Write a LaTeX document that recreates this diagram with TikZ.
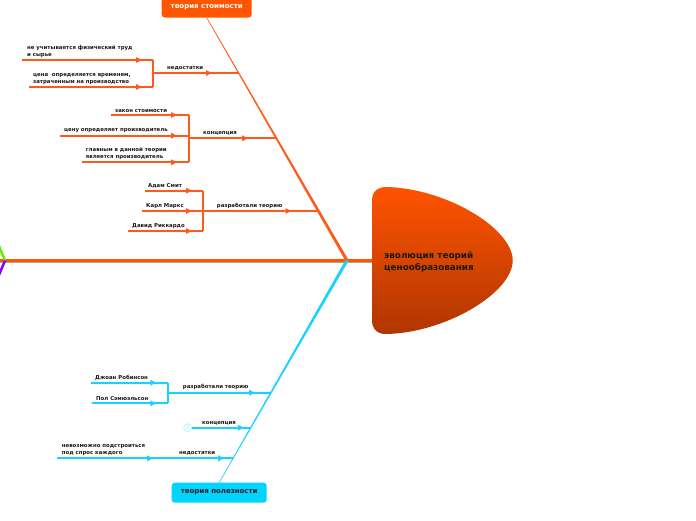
\documentclass[tikz,border=0pt]{standalone}
\usepackage{fontspec}
\setmainfont{DejaVu Sans}
\usepackage{xcolor}
\usetikzlibrary{arrows.meta, positioning, calc, decorations.markings}

\definecolor{stoim}{HTML}{FF5500}
\definecolor{stoimline}{HTML}{FF5A1A}
\definecolor{polez}{HTML}{00D4FF}
\definecolor{polezline}{HTML}{1AD2FF}
\definecolor{headtop}{HTML}{FF5300}
\definecolor{headbot}{HTML}{B03600}
\definecolor{spineedge}{HTML}{A3A88C}
\definecolor{txt}{HTML}{1A1A1A}
\definecolor{grn}{HTML}{66EE00}
\definecolor{prp}{HTML}{8A00FF}

\tikzset{
  lbl/.style={font=\fontsize{5.4}{7}\selectfont\bfseries, text=txt, inner sep=0pt, anchor=south west, align=left},
  arrat/.style={postaction={decorate}, decoration={markings, mark=at position #1 with {\arrow{Triangle[length=6pt, width=5.5pt]}}}},
  orn/.style={stoimline, line width=1.8pt},
  cyn/.style={polezline, line width=1.8pt},
  topic/.style={rounded corners=3pt, inner sep=0pt, font=\fontsize{7}{8}\selectfont\bfseries}
}

\begin{document}
\begin{tikzpicture}[x=1pt, y=-1pt]
    \useasboundingbox (0,0) rectangle (696,520);
    % main spine
    \coordinate (spineL) at (0,260.5);
    \coordinate (headW) at (372,260.5);
    \coordinate (J) at (347,260.5);
    \draw[spineedge, line width=4pt] (spineL) -- (headW);
    \draw[stoim, line width=3.5pt] (spineL) -- (headW);
    % bones of other topics (off the left edge)
    \coordinate (gr) at (-1,246);
    \coordinate (pu) at (-1,275);
    \coordinate (lj) at (5,260.5);
    \draw[grn, line width=2.5pt] (gr) -- (lj);
    \draw[prp, line width=2.5pt] (lj) -- (pu);
    % head
    \shade[top color=headtop, bottom color=headbot]
        (372,201) .. controls (372,192) and (377,187) .. (386,187)
        .. controls (445,188) and (512.7,228) .. (512.7,260.5)
        .. controls (512.7,293) and (445,333) .. (386,334)
        .. controls (377,334) and (372,329) .. (372,320) -- cycle;
    \node[font=\fontsize{8.8}{11.3}\selectfont\bfseries, text=txt, align=left, inner sep=0pt, anchor=west] (head) at (384,262) {эволюция теорий\\ценообразования};

    % topic: теория стоимости
    \node[topic, fill=stoim, text=white, minimum width=90pt, minimum height=21pt] (tst) at (206.7,7) {теория стоимости};
    \fill[stoimline] ($(tst.south)+(-0.35,0)$) -- ($(J)+(-1.8,0)$) -- ($(J)+(1.8,0)$) -- ($(tst.south)+(0.35,0)$) -- cycle;

    % недостатки
    \coordinate (nedT) at (153,73);
    \coordinate (nedTb) at (239,73);
    \draw[orn, arrat=-27pt] (nedT) -- (nedTb);
    \node[lbl] (nedTl) at (167,70.5) {недостатки};
    \coordinate (fiz) at (22,60);
    \coordinate (cena) at (29,87);
    \draw[orn, arrat=-11pt] (fiz) -- (fiz -| nedT);
    \draw[orn, arrat=-11pt] (cena) -- (cena -| nedT);
    \draw[orn] (fiz -| nedT) -- (cena -| nedT);
    \node[lbl] (fizl) at (27,57.5) {не учитывается физический труд\\и сырье};
    \node[lbl] (cenal) at (33,84.5) {цена\ \ определяется временем,\\затраченным на производство};

    % концепция
    \coordinate (konT) at (189,138.3);
    \coordinate (konTb) at (276.6,138.3);
    \draw[orn, arrat=-28.5pt] (konT) -- (konTb);
    \node[lbl] (konTl) at (203,135.8) {концепция};
    \coordinate (zak) at (111,115);
    \coordinate (proi) at (60,135.7);
    \coordinate (glav) at (81.7,162.3);
    \draw[orn, arrat=-12pt] (zak) -- (zak -| konT);
    \draw[orn, arrat=-12pt] (proi) -- (proi -| konT);
    \draw[orn, arrat=-12pt] (glav) -- (glav -| konT);
    \draw[orn] (zak -| konT) -- (glav -| konT);
    \node[lbl] (zakl) at (115,112.5) {закон стоимости};
    \node[lbl] (proil) at (64,133.2) {цену определяет производитель};
    \node[lbl] (glavl) at (85.7,159.8) {главным в данной теории\\является производитель};

    % разработали теорию
    \coordinate (razT) at (203,211);
    \coordinate (razTb) at (318.5,211);
    \draw[orn, arrat=-27pt] (razT) -- (razTb);
    \node[lbl] (razTl) at (216.7,208.5) {разработали теорию};
    \coordinate (smit) at (145,190.7);
    \coordinate (marks) at (141.7,211);
    \coordinate (rikk) at (128,231);
    \draw[orn, arrat=-11pt] (smit) -- (smit -| razT);
    \draw[orn, arrat=-11pt] (marks) -- (marks -| razT);
    \draw[orn, arrat=-11pt] (rikk) -- (rikk -| razT);
    \draw[orn] (smit -| razT) -- (rikk -| razT);
    \node[lbl] (smitl) at (148,188.2) {Адам Смит};
    \node[lbl] (marksl) at (146,208.5) {Карл Маркс};
    \node[lbl] (rikkl) at (132,228.5) {Давид Риккардо};

    % topic: теория полезности
    \node[topic, fill=polez, text=txt, minimum width=95pt, minimum height=20pt] (tpl) at (219.2,492.7) {теория полезности};
    \fill[polezline] ($(tpl.north)+(-0.35,0)$) -- ($(J)+(-1.8,0)$) -- ($(J)+(1.8,0)$) -- ($(tpl.north)+(0.35,0)$) -- cycle;

    % разработали теорию
    \coordinate (razP) at (168.3,392.7);
    \coordinate (razPb) at (271,392.7);
    \draw[cyn, arrat=-16pt] (razP) -- (razPb);
    \node[lbl] (razPl) at (182.7,390.2) {разработали теорию};
    \coordinate (rob) at (91,382.7);
    \coordinate (sam) at (91.7,403.3);
    \draw[cyn, arrat=-12pt] (rob) -- (rob -| razP);
    \draw[cyn, arrat=-12pt] (sam) -- (sam -| razP);
    \draw[cyn] (rob -| razP) -- (sam -| razP);
    \node[lbl] (robl) at (95,380.2) {Джоан Робинсон};
    \node[lbl] (saml) at (96,400.8) {Пол Сэмюэльсон};

    % концепция
    \node[circle, draw=polez!35, text=polez!45, line width=0.6pt, minimum size=8pt, inner sep=0pt, font=\fontsize{5}{5}\selectfont] (two) at (187.7,427.7) {2};
    \coordinate (konPb) at (250.8,427.7);
    \draw[cyn, arrat=-7pt] (two) -- (konPb);
    \node[lbl] (konPl) at (202,425.2) {концепция};

    % недостатки
    \coordinate (nevoz) at (57.3,458.3);
    \coordinate (nedP) at (165,458.3);
    \coordinate (nedPb) at (233.2,458.3);
    \draw[cyn, arrat=-12pt] (nevoz) -- (nedP);
    \draw[cyn, arrat=-9pt] (nedP) -- (nedPb);
    \node[lbl] (nevozl) at (61.7,455.8) {невозможно подстроиться\\под спрос каждого};
    \node[lbl] (nedPl) at (179,455.8) {недостатки};
\end{tikzpicture}
\end{document}
